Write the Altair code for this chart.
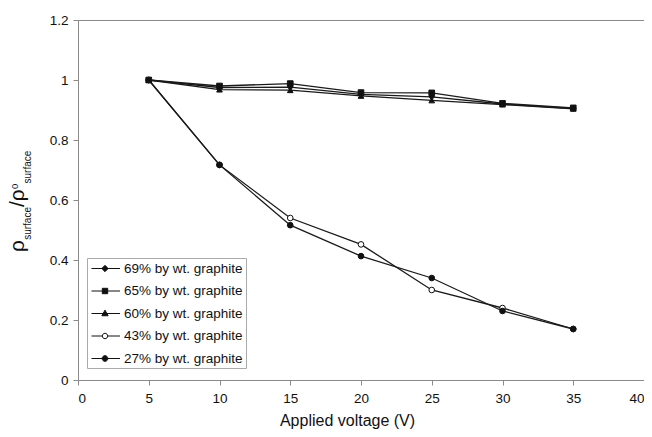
import altair as alt
import pandas as pd

voltage = [5, 10, 15, 20, 25, 30, 35]
series_names = [
    "69% by wt. graphite",
    "65% by wt. graphite",
    "60% by wt. graphite",
    "43% by wt. graphite",
    "27% by wt. graphite",
]
s69 = [1.0, 0.975, 0.976, 0.952, 0.944, 0.920, 0.905]
s65 = [1.0, 0.980, 0.988, 0.958, 0.957, 0.922, 0.907]
s60 = [1.0, 0.968, 0.966, 0.947, 0.932, 0.918, 0.904]
s43 = [1.0, 0.717, 0.540, 0.452, 0.300, 0.240, 0.170]
s27 = [1.0, 0.717, 0.516, 0.413, 0.340, 0.230, 0.170]

x_ticks = [0, 5, 10, 15, 20, 25, 30, 35, 40]
y_ticks = [0, 0.2, 0.4, 0.6, 0.8, 1.0, 1.2]

rows = []
for name, vals in zip(series_names, [s69, s65, s60, s43, s27]):
    for v, r in zip(voltage, vals):
        rows.append({"voltage": v, "value": r, "series": name})
df = pd.DataFrame(rows)

FONT = "Liberation Sans"
shapes = ["diamond", "square", "triangle-up", "circle", "circle"]
fills = ["#111", "#111", "#111", "#ffffff", "#111"]
strokes = ["#111"] * 5

# legend symbols: line with a marker (unit coords scaled by sqrt(size)/2 = 7.5 px)
def circ(cx, r):
    return (f"M{cx + r},0A{r},{r},0,1,1,{cx - r},0A{r},{r},0,1,1,{cx + r},0Z")

C = 1.0  # marker centre offset (units)
legend_paths = [
    f"M-0.8,0H3.0M{C},-0.42L{C + 0.42},0L{C},0.42L{C - 0.42},0Z",
    f"M-0.8,0H3.0M{C - 0.36},-0.36H{C + 0.36}V0.36H{C - 0.36}Z",
    f"M-0.8,0H3.0M{C},-0.45L{C + 0.42},0.3H{C - 0.42}Z",
    f"M-0.8,0H{C - 0.36}M{C + 0.36},0H3.0" + circ(C, 0.36),
    "M-0.8,0H3.0" + circ(C, 0.38),
]

xenc = alt.X("voltage:Q", scale=alt.Scale(domain=[0, 40], nice=False),
             axis=alt.Axis(values=x_ticks, title="Applied voltage (V)",
                           titleFontSize=16, titleFontWeight="normal",
                           titleX=269, titleY=45, titleBaseline="alphabetic",
                           labelPadding=6))
yenc = alt.Y("value:Q", scale=alt.Scale(domain=[0, 1.2], nice=False),
             axis=alt.Axis(values=y_ticks, format="~g", title=None, labelPadding=5))

base = alt.Chart(df)

lines = base.mark_line(color="#1a1a1a", strokeWidth=1.3).encode(
    x=xenc, y=yenc, detail="series:N"
)

points = base.mark_point(size=32, stroke="#111", strokeWidth=1, opacity=1, fillOpacity=1).encode(
    x=xenc, y=yenc,
    shape=alt.Shape("series:N", scale=alt.Scale(domain=series_names, range=shapes), legend=None),
    fill=alt.Fill("series:N", scale=alt.Scale(domain=series_names, range=fills), legend=None),
)

leg = alt.Legend(title=None, symbolSize=225, symbolStrokeWidth=1, labelOffset=18.5)
legend_layer = base.transform_filter("datum.value > 5").mark_point(
    size=225, strokeWidth=1, opacity=1, fillOpacity=1, strokeOpacity=1
).encode(
    x=xenc, y=yenc,
    shape=alt.Shape("series:N", scale=alt.Scale(domain=series_names, range=legend_paths),
                    legend=leg),
    fill=alt.Fill("series:N", scale=alt.Scale(domain=series_names, range=fills),
                  legend=leg),
    stroke=alt.Stroke("series:N", scale=alt.Scale(domain=series_names, range=strokes),
                      legend=leg),
)

# y-axis title with subscripts / superscript (rotated text pieces)
tdf = pd.DataFrame({"a": [0]})
def piece(text, size, bx, sy):
    return alt.Chart(tdf).mark_text(
        text=text, font=FONT, fontSize=size, angle=270, align="left",
        baseline="alphabetic", color="#111"
    ).encode(x=alt.value(bx), y=alt.value(sy))

title_pieces = [
    piece("ρ", 21, -54, 232),
    piece("surface", 10, -47.5, 219.8),
    piece("/ρ", 21, -54, 187),
    piece("0", 9.5, -60, 169),
    piece("surface", 10, -47.5, 163.5),
]

chart = alt.layer(lines, points, legend_layer, *title_pieces).resolve_scale(
    shape="independent", fill="independent", stroke="independent"
).properties(
    width=566, height=360,
    autosize=alt.AutoSizeParams(type="none"),
    padding={"left": 70, "top": 12, "right": 0, "bottom": 49},
).configure_view(
    stroke="#8a8a8a", strokeWidth=1
).configure_axis(
    grid=False, domainColor="#8a8a8a", tickColor="#8a8a8a", tickSize=5,
    labelFont=FONT, titleFont=FONT, labelFontSize=13.5, labelColor="#111",
    titleColor="#111",
).configure_legend(
    orient="none", legendX=9, legendY=238, strokeColor="#aaaaaa",
    fillColor="#ffffff", padding=2.5, labelFont=FONT, labelFontSize=13.5,
    labelColor="#111", rowPadding=7.5,
)

chart.save("out.html", embed_options={"renderer": "svg", "actions": False})
